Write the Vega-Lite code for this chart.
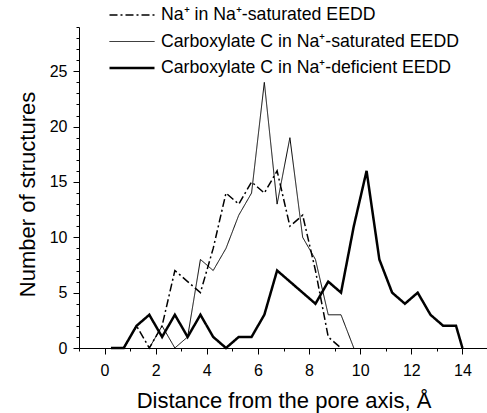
{
  "$schema": "https://vega.github.io/schema/vega-lite/v6.json",
  "width": 409,
  "height": 321,
  "autosize": {"type": "none"},
  "padding": {"left": 79, "top": 27, "right": 0, "bottom": 65},
  "background": "white",
  "config": {
    "view": {"stroke": null},
    "font": "Liberation Sans",
    "axis": {"grid": false, "domainColor": "black", "tickColor": "black", "labelColor": "black", "titleColor": "black", "labelFont": "Liberation Sans", "titleFont": "Liberation Sans", "labelFontSize": 16, "titleFontSize": 22, "titleFontWeight": "normal", "labelOverlap": false, "labelBound": false, "labelFlush": false, "domainWidth": 1, "tickWidth": 1},
    "legend": {"labelFont": "Liberation Sans", "labelFontSize": 17.7, "labelColor": "black", "labelLimit": 400}
  },
  "data": {
    "values": [
      {"series": "na", "x": 0.75, "y": 0},
      {"series": "na", "x": 1.25, "y": 2},
      {"series": "na", "x": 1.75, "y": 0},
      {"series": "na", "x": 2.25, "y": 2},
      {"series": "na", "x": 2.75, "y": 7},
      {"series": "na", "x": 3.25, "y": 6},
      {"series": "na", "x": 3.75, "y": 5},
      {"series": "na", "x": 4.25, "y": 9},
      {"series": "na", "x": 4.75, "y": 14},
      {"series": "na", "x": 5.25, "y": 13},
      {"series": "na", "x": 5.75, "y": 15},
      {"series": "na", "x": 6.25, "y": 14},
      {"series": "na", "x": 6.75, "y": 16},
      {"series": "na", "x": 7.25, "y": 11},
      {"series": "na", "x": 7.75, "y": 12},
      {"series": "na", "x": 8.25, "y": 7},
      {"series": "na", "x": 8.75, "y": 1},
      {"series": "na", "x": 9.25, "y": 0},
      {"series": "sat", "x": 1.75, "y": 0},
      {"series": "sat", "x": 2.25, "y": 2},
      {"series": "sat", "x": 2.75, "y": 0},
      {"series": "sat", "x": 3.25, "y": 1},
      {"series": "sat", "x": 3.75, "y": 8},
      {"series": "sat", "x": 4.25, "y": 7},
      {"series": "sat", "x": 4.75, "y": 9},
      {"series": "sat", "x": 5.25, "y": 12},
      {"series": "sat", "x": 5.75, "y": 14},
      {"series": "sat", "x": 6.25, "y": 24},
      {"series": "sat", "x": 6.75, "y": 13},
      {"series": "sat", "x": 7.25, "y": 19},
      {"series": "sat", "x": 7.75, "y": 10},
      {"series": "sat", "x": 8.25, "y": 8},
      {"series": "sat", "x": 8.75, "y": 3},
      {"series": "sat", "x": 9.25, "y": 3},
      {"series": "sat", "x": 9.75, "y": 0},
      {"series": "def", "x": 0.25, "y": 0},
      {"series": "def", "x": 0.75, "y": 0},
      {"series": "def", "x": 1.25, "y": 2},
      {"series": "def", "x": 1.75, "y": 3},
      {"series": "def", "x": 2.25, "y": 1},
      {"series": "def", "x": 2.75, "y": 3},
      {"series": "def", "x": 3.25, "y": 1},
      {"series": "def", "x": 3.75, "y": 3},
      {"series": "def", "x": 4.25, "y": 1},
      {"series": "def", "x": 4.75, "y": 0},
      {"series": "def", "x": 5.25, "y": 1},
      {"series": "def", "x": 5.75, "y": 1},
      {"series": "def", "x": 6.25, "y": 3},
      {"series": "def", "x": 6.75, "y": 7},
      {"series": "def", "x": 7.25, "y": 6},
      {"series": "def", "x": 7.75, "y": 5},
      {"series": "def", "x": 8.25, "y": 4},
      {"series": "def", "x": 8.75, "y": 6},
      {"series": "def", "x": 9.25, "y": 5},
      {"series": "def", "x": 9.75, "y": 11},
      {"series": "def", "x": 10.25, "y": 16},
      {"series": "def", "x": 10.75, "y": 8},
      {"series": "def", "x": 11.25, "y": 5},
      {"series": "def", "x": 11.75, "y": 4},
      {"series": "def", "x": 12.25, "y": 5},
      {"series": "def", "x": 12.75, "y": 3},
      {"series": "def", "x": 13.25, "y": 2},
      {"series": "def", "x": 13.75, "y": 2},
      {"series": "def", "x": 14.0, "y": 0}
    ]
  },
  "mark": {"type": "line", "color": "black", "strokeJoin": "miter", "strokeCap": "butt"},
  "encoding": {
    "x": {
      "field": "x", "type": "quantitative",
      "scale": {"domain": [-1, 15], "nice": false, "zero": false},
      "axis": {
        "title": "Distance from the pore axis, Å",
        "values": [-1,0,1,2,3,4,5,6,7,8,9,10,11,12,13,14,15],
        "labelExpr": "datum.value % 2 === 0 && datum.value >= 0 && datum.value <= 14 ? datum.label : ''",
        "tickSize": {"condition": {"test": "datum.value % 2 === 0", "value": 6}, "value": 3},
        "labelPadding": 8,
        "titlePadding": 12
      }
    },
    "y": {
      "field": "y", "type": "quantitative",
      "scale": {"domain": [0, 29], "nice": false},
      "axis": {
        "title": "Number of structures",
        "values": [0,1,2,3,4,5,6,7,8,9,10,11,12,13,14,15,16,17,18,19,20,21,22,23,24,25,26,27,28,29],
        "labelExpr": "datum.value % 5 === 0 ? datum.label : ''",
        "tickSize": {"condition": {"test": "datum.value % 5 === 0", "value": 6}, "value": 3},
        "labelPadding": 6,
        "titlePadding": 10,
        "titleY": 167
      }
    },
    "strokeDash": {
      "field": "series", "type": "nominal",
      "scale": {"domain": ["na", "sat", "def"], "range": [[8, 3, 2, 3], [1, 0], [1, 0]]},
      "legend": {
        "title": null,
        "orient": "none",
        "legendX": 29,
        "legendY": -22,
        "padding": 0,
        "rowPadding": 6.5,
        "clipHeight": 20,
        "symbolType": "M-1,0H1",
        "symbolSize": 2025,
        "symbolStrokeColor": "black",
        "labelOffset": 5,
        "labelExpr": "datum.value === 'na' ? 'Na⁺ in Na⁺-saturated EEDD' : datum.value === 'sat' ? 'Carboxylate C in Na⁺-saturated EEDD' : 'Carboxylate C in Na⁺-deficient EEDD'"
      }
    },
    "strokeWidth": {
      "field": "series", "type": "nominal",
      "scale": {"type": "ordinal", "domain": ["na", "sat", "def"], "range": [1.5, 1, 2.5]},
      "legend": {
        "title": null,
        "orient": "none",
        "legendX": 29,
        "legendY": -22,
        "padding": 0,
        "rowPadding": 6.5,
        "clipHeight": 20,
        "symbolType": "M-1,0H1",
        "symbolSize": 2025,
        "symbolStrokeColor": "black",
        "labelOffset": 5,
        "labelExpr": "datum.value === 'na' ? 'Na⁺ in Na⁺-saturated EEDD' : datum.value === 'sat' ? 'Carboxylate C in Na⁺-saturated EEDD' : 'Carboxylate C in Na⁺-deficient EEDD'"
      }
    }
  }
}
